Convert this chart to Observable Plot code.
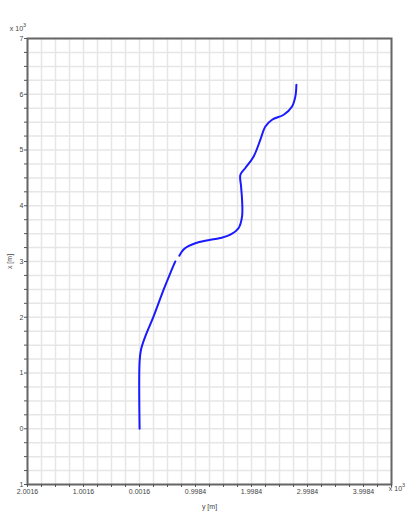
<!DOCTYPE html>
<html><head><meta charset="utf-8">
<script src="https://cdn.jsdelivr.net/npm/d3@7"></script>
<script src="https://cdn.jsdelivr.net/npm/@observablehq/plot@0.6"></script>
<style>
body{margin:0;background:#fff;}
#chart svg{display:block;font-family:"Liberation Sans",Arial,sans-serif;}
</style>
</head><body><div id="chart"></div>
<script>
// Path: horizontal coordinate "y [m]" and vertical coordinate "x [m]"
const pathY = [0, 0, 25, 102, 250, 429, 549, 638, null, 709, 781, 870, 995, 1174, 1442, 1621, 1769, 1830, 1830, 1812, 1800, 1889, 2037, 2157, 2246, 2366, 2573, 2723, 2782, 2800];
const pathX = [0, 1207, 1417, 1656, 2015, 2494, 2793, 3001, null, 3104, 3211, 3274, 3328, 3373, 3421, 3480, 3601, 3809, 4108, 4347, 4557, 4677, 4885, 5185, 5423, 5543, 5633, 5782, 5962, 6171];

const hTickValues = [-2001.6, -1001.6, -1.6, 998.4, 1998.4, 2998.4, 3998.4];
const hTickLabels = ["2.0016", "1.0016", "0.0016", "0.9984", "1.9984", "2.9984", "3.9984"];
const vTickValues = [-1000, 0, 1000, 2000, 3000, 4000, 5000, 6000, 7000];
const vTickLabels = ["1", "0", "1", "2", "3", "4", "5", "6", "7"];

const hDomain = [-2001.6, 4498.4];
const vDomain = [-1000, 7000];
const step = 250;

const hGrid = d3.range(hDomain[0], hDomain[1] + 1, step);
const vGrid = d3.range(vDomain[0], vDomain[1] + 1, step);

const pts = pathY.map((y, i) => ({y: y == null ? NaN : y, x: pathX[i] == null ? NaN : pathX[i]}));

const hLab = new Map(hTickValues.map((v, i) => [v.toFixed(1), hTickLabels[i]]));
const vLab = new Map(vTickValues.map((v, i) => [String(v), vTickLabels[i]]));

const plot = Plot.plot({
  width: 420,
  height: 512,
  marginLeft: 27,
  marginRight: 29,
  marginTop: 38,
  marginBottom: 28,
  style: {fontSize: "7px", color: "#444", background: "#fff"},
  x: {domain: hDomain, axis: null},
  y: {domain: vDomain, axis: null},
  marks: [
    Plot.ruleX(hGrid, {stroke: "#e6e6e6", strokeWidth: 1.5}),
    Plot.ruleY(vGrid, {stroke: "#e6e6e6", strokeWidth: 1.5}),
    Plot.line(pts, {x: "y", y: "x", stroke: "#1a1aff", strokeWidth: 2, curve: "catmull-rom"}),
    Plot.frame({stroke: "#666", strokeWidth: 2}),
    Plot.axisX({ticks: hGrid, tickSize: 3, tickPadding: 2, stroke: "#555", fill: "#444",
      tickFormat: d => hLab.get(d.toFixed(1)) || "",
      label: "y [m]", labelAnchor: "center", labelOffset: 24, labelArrow: false}),
    Plot.axisY({ticks: vGrid, tickSize: 3, tickPadding: 1, stroke: "#555", fill: "#444",
      tickFormat: d => vLab.get(String(Math.round(d))) || "",
      label: "x [m]", labelAnchor: "center", labelOffset: 20, labelArrow: false})
  ]
});
document.getElementById("chart").appendChild(plot);

const svg = d3.select(plot);
function mult(x, y) {
  const t = svg.append("text").attr("x", x).attr("y", y).attr("font-size", 7).attr("fill", "#444");
  t.append("tspan").text("x 10");
  t.append("tspan").attr("dy", -4).attr("font-size", 5.5).text("3");
}
mult(18, 31);
mult(397, 491);
</script>
</body></html>
